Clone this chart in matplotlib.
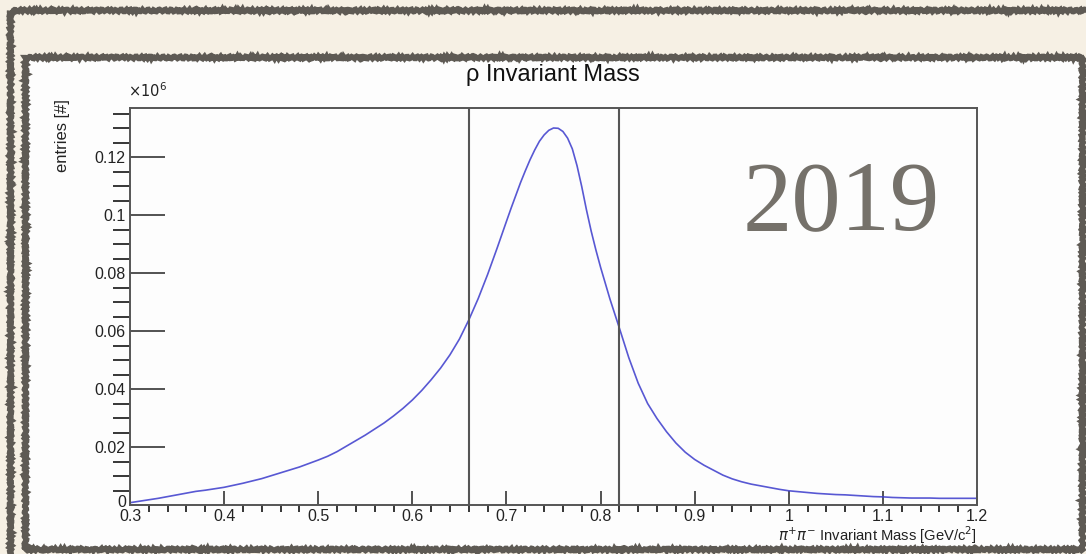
import numpy as np
import matplotlib
matplotlib.use("Agg")
import matplotlib.pyplot as plt
from matplotlib.patches import Rectangle
from matplotlib.transforms import ScaledTranslation

# Masa invariante pi+pi- (GeV/c^2)
masa = [
    0.30, 0.31, 0.32, 0.33, 0.34, 0.35, 0.36, 0.37, 0.38, 0.39,
    0.40, 0.41, 0.42, 0.43, 0.44, 0.45, 0.46, 0.47, 0.48, 0.49,
    0.50, 0.51, 0.52, 0.53, 0.54, 0.55, 0.56, 0.57, 0.58, 0.59,
    0.60, 0.61, 0.62, 0.63, 0.64, 0.65, 0.66, 0.67, 0.68, 0.69,
    0.700, 0.705, 0.710, 0.715, 0.720, 0.725, 0.730, 0.735, 0.740, 0.745,
    0.750, 0.755, 0.760, 0.765, 0.770, 0.775, 0.780, 0.785, 0.790, 0.795,
    0.80, 0.81, 0.82, 0.83, 0.84, 0.85, 0.86, 0.87, 0.88, 0.89,
    0.90, 0.91, 0.92, 0.93, 0.94, 0.95, 0.96, 0.97, 0.98, 0.99,
    1.00, 1.01, 1.02, 1.03, 1.04, 1.05, 1.06, 1.07, 1.08, 1.09,
    1.10, 1.11, 1.12, 1.13, 1.14, 1.15, 1.16, 1.17, 1.18, 1.19,
    1.20,
]

entradas = [
    0.0008, 0.0013, 0.0018, 0.0023, 0.0029, 0.0035, 0.0041, 0.0047, 0.0051, 0.0056,
    0.0061, 0.0068, 0.0075, 0.0083, 0.0091, 0.0101, 0.0111, 0.0121, 0.0131, 0.0143,
    0.0155, 0.0168, 0.0184, 0.0203, 0.0222, 0.0241, 0.0262, 0.0283, 0.0307, 0.0333,
    0.0362, 0.0395, 0.0432, 0.0472, 0.0518, 0.0572, 0.0638, 0.0712, 0.0795, 0.0885,
    0.0978, 0.1024, 0.1068, 0.1112, 0.1152, 0.1190, 0.1224, 0.1254, 0.1276, 0.1292,
    0.1300, 0.1299, 0.1288, 0.1265, 0.1228, 0.1170, 0.1098, 0.1018, 0.0945, 0.0880,
    0.0820, 0.0710, 0.0610, 0.0508, 0.0420, 0.0350, 0.0298, 0.0253, 0.0214, 0.0182,
    0.0157, 0.0137, 0.0120, 0.0103, 0.0090, 0.0080, 0.0072, 0.0066, 0.0060, 0.0054,
    0.0049, 0.0046, 0.0043, 0.0040, 0.0038, 0.0036, 0.0035, 0.0033, 0.0031, 0.0029,
    0.0028, 0.0026, 0.0025, 0.0024, 0.0024, 0.0024, 0.0023, 0.0023, 0.0023, 0.0023,
    0.0023,
]

# Cortes de seleccion
cortes = [0.66, 0.82]

xticks = [0.3, 0.4, 0.5, 0.6, 0.7, 0.8, 0.9, 1.0, 1.1, 1.2]
xticklabels = ["0.3", "0.4", "0.5", "0.6", "0.7", "0.8", "0.9", "1", "1.1", "1.2"]
yticks = [0, 0.02, 0.04, 0.06, 0.08, 0.10, 0.12]
yticklabels = ["0", "0.02", "0.04", "0.06", "0.08", "0.1", "0.12"]

W, H = 1086, 554
plt.rcParams['font.family'] = ['Liberation Sans', 'DejaVu Sans']

fig = plt.figure(figsize=(W / 100, H / 100), dpi=100)
fig.patch.set_facecolor('#f6f0e4')

# Marco decorativo (fondo)
bg = fig.add_axes([0, 0, 1, 1], zorder=0)
bg.set_xlim(0, W)
bg.set_ylim(H, 0)
bg.axis('off')
borde = '#5e5a54'
exterior = Rectangle((10, 10), 1110, 600, facecolor='none', edgecolor=borde, lw=3.8)
exterior.set_sketch_params(scale=1.3, length=5, randomness=2)
bg.add_patch(exterior)
interior = Rectangle((25, 57), 1057, 492, facecolor='#fdfdfd', edgecolor=borde, lw=3.8)
interior.set_sketch_params(scale=1.3, length=5, randomness=2)
bg.add_patch(interior)

# Histograma
x0, x1 = 130, 977
y0, y1 = 505, 107.7
ax = fig.add_axes([x0 / W, 1 - y0 / H, (x1 - x0) / W, (y0 - y1) / H], zorder=1)
ax.set_facecolor('#fdfdfd')
ax.plot(masa, entradas, color='#3b3bcc', lw=1.2, alpha=0.85)
for c in cortes:
    ax.axvline(c, color='#555555', lw=1.5)

ax.set_xlim(0.3, 1.2)
ax.set_ylim(0, 0.137)
ax.set_xticks(xticks)
ax.set_xticklabels(xticklabels)
ax.set_yticks(yticks)
ax.set_yticklabels(yticklabels)
ax.set_xticks(np.arange(0.30, 1.2001, 0.02), minor=True)
ax.set_yticks(np.arange(0, 0.1371, 0.005), minor=True)
ax.tick_params(axis='both', direction='in', colors='#444444', labelcolor='#222222',
               labelsize=11.5)
ax.tick_params(axis='x', which='major', length=10, width=1.3, pad=3)
ax.tick_params(axis='x', which='minor', length=5, width=1.1)
ax.tick_params(axis='y', which='major', length=25, width=1.3, pad=3)
ax.tick_params(axis='y', which='minor', length=12, width=1.1)
for s in ax.spines.values():
    s.set_color('#555555')
    s.set_linewidth(1.4)

# el "0" del eje y sube un poco, como en ROOT
cero = ax.get_yticklabels()[0]
cero.set_transform(cero.get_transform() + ScaledTranslation(0, 3 / 72, fig.dpi_scale_trans))

fig.text(x0 / W - 0.002, 1 - 100 / H, r'$\times10^{6}$', fontsize=10.5, color='#222222',
         ha='left', va='bottom')
fig.text(553 / W, 1 - 75 / H, u'\u03c1 Invariant Mass', fontsize=17, color='#111111',
         ha='center', va='center')
fig.text(63 / W, 1 - 99 / H, 'entries [#]', fontsize=12, color='#222222',
         rotation=90, ha='center', va='top')
fig.text(x1 / W, 1 - 535 / H, r'$\pi^{+}\pi^{-}$ Invariant Mass [GeV/c$^{2}$]',
         fontsize=10.6, color='#222222', ha='right', va='center')
fig.text(841 / W, 1 - 205 / H, '2019', fontsize=71, color='#75716a',
         family=['Liberation Serif', 'DejaVu Serif'], ha='center', va='center')

fig.savefig('out.png', dpi=100, facecolor=fig.get_facecolor())
